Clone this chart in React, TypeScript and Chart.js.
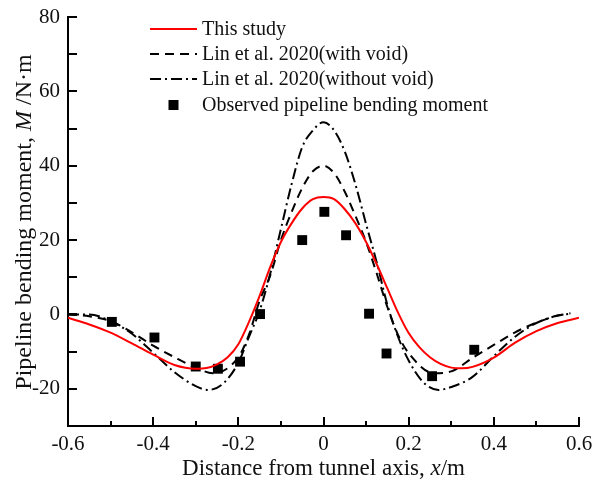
import React, { useEffect, useRef } from "react";
import { Chart, registerables } from "chart.js";

Chart.register(...registerables);

// ---- Data ----
const thisStudyX = [-0.6, -0.55, -0.5, -0.45, -0.4, -0.35, -0.3, -0.275, -0.25, -0.225, -0.2, -0.175, -0.15, -0.125, -0.1, -0.075, -0.05, -0.025, 0, 0.025, 0.05, 0.075, 0.1, 0.125, 0.15, 0.175, 0.2, 0.225, 0.25, 0.275, 0.3, 0.325, 0.35, 0.4, 0.45, 0.5, 0.55, 0.6];
const thisStudyY = [-0.9, -2.7, -4.9, -7.8, -10.8, -13.6, -14.6, -14.4, -13.4, -11.5, -8, -2, 5, 12.8, 19.5, 24.5, 28.5, 31, 31.6, 31, 28.3, 24.5, 19.5, 13.5, 7, 0.5, -5, -8.8, -11.5, -13.3, -14.3, -14.5, -14.1, -11.6, -7.6, -4.5, -2.3, -0.9];

const withVoidX = [-0.6, -0.55, -0.5, -0.45, -0.4, -0.35, -0.3, -0.26, -0.2, -0.175, -0.15, -0.125, -0.1, -0.075, -0.05, -0.025, 0, 0.025, 0.05, 0.075, 0.1, 0.125, 0.15, 0.175, 0.2, 0.26, 0.3, 0.35, 0.4, 0.45, 0.5, 0.55, 0.58];
const withVoidY = [0, -0.5, -1.8, -4.8, -8.4, -11.5, -14.3, -15.8, -11.5, -5.4, 3.7, 10.5, 20, 27.5, 34, 38.5, 40, 38, 33, 26.5, 19.5, 11, 2, -5.5, -10.4, -15.8, -15.3, -11.7, -8.2, -4.8, -2.2, -0.3, 0.3];

const withoutVoidX = [-0.6, -0.55, -0.5, -0.45, -0.4, -0.35, -0.3, -0.27, -0.235, -0.2, -0.175, -0.15, -0.125, -0.1, -0.075, -0.05, -0.025, 0, 0.025, 0.05, 0.075, 0.1, 0.125, 0.15, 0.175, 0.2, 0.235, 0.27, 0.3, 0.35, 0.4, 0.45, 0.5, 0.55, 0.58];
const withoutVoidY = [0, 0, -1.8, -5.2, -10.3, -15.5, -19.3, -20.3, -18.5, -13, -6, 1, 11, 23, 35, 45, 49.5, 51.7, 49.5, 43.8, 35, 24.3, 14, 2.6, -6, -12.4, -18.3, -20.3, -19.5, -16.8, -11.2, -6, -2.3, -0.3, 0.2];

const observedX = [-0.497, -0.397, -0.3, -0.248, -0.196, -0.149, -0.05, 0.002, 0.053, 0.107, 0.148, 0.255, 0.354];
const observedY = [-2, -6.2, -14, -14.6, -12.7, 0.1, 20, 27.6, 21.3, 0.2, -10.5, -16.6, -9.5];

const seriesLabels = [
  "This study",
  "Lin et al. 2020(with void)",
  "Lin et al. 2020(without void)",
  "Observed pipeline bending moment",
];

const xMin = -0.6;
const xMax = 0.6;
const yMin = -30;
const yMax = 80;

const FONT = "'Liberation Serif', 'Times New Roman', serif";

const zip = (xs: number[], ys: number[]) => xs.map((x, i) => ({ x, y: ys[i] }));

const customPlugin = {
  id: "customDecor",
  afterDraw(chart: any) {
    const ctx = chart.ctx;
    const { left, right, bottom } = chart.chartArea;
    const xs = chart.scales.x;
    const ys = chart.scales.y;
    ctx.save();
    ctx.strokeStyle = "#000";
    ctx.lineWidth = 2;
    // x ticks (inward)
    xs.ticks.forEach((t: any) => {
      const px = Math.round(xs.getPixelForValue(t.value));
      const major = Math.round(t.value * 10) % 2 === 0;
      const len = major ? 9 : 5;
      ctx.beginPath();
      ctx.moveTo(px, bottom);
      ctx.lineTo(px, bottom - len);
      ctx.stroke();
    });
    // y ticks (inward)
    ys.ticks.forEach((t: any) => {
      const py = Math.round(ys.getPixelForValue(t.value));
      ctx.beginPath();
      ctx.moveTo(left, py);
      ctx.lineTo(left + 9, py);
      ctx.stroke();
    });

    // legend
    const lx0 = 150;
    const lx1 = 197;
    const tx = 202;
    const rows = [29, 54, 79, 105];
    ctx.font = `20px ${FONT}`;
    ctx.textBaseline = "middle";
    ctx.textAlign = "left";
    chart.data.datasets.forEach((ds: any, i: number) => {
      const y = rows[i];
      if (ds.showLine === false) {
        ctx.fillStyle = ds.pointBackgroundColor || "#000";
        ctx.fillRect((lx0 + lx1) / 2 - 5, y - 5, 10, 10);
      } else {
        ctx.save();
        ctx.strokeStyle = ds.borderColor;
        ctx.lineWidth = ds.borderWidth;
        ctx.setLineDash(ds.borderDash || []);
        ctx.beginPath();
        ctx.moveTo(lx0, y);
        ctx.lineTo(lx1, y);
        ctx.stroke();
        ctx.restore();
      }
      ctx.fillStyle = "#111";
      ctx.fillText(ds.label, tx, y + 1);
    });

    // axis titles with italic variable names
    const drawMixed = (parts: [string, boolean][], cx: number, cy: number, rotate: boolean, size: number) => {
      ctx.save();
      ctx.translate(cx, cy);
      if (rotate) ctx.rotate(-Math.PI / 2);
      let total = 0;
      parts.forEach(([s, it]) => {
        ctx.font = `${it ? "italic " : ""}${size}px ${FONT}`;
        total += ctx.measureText(s).width;
      });
      let x = -total / 2;
      ctx.fillStyle = "#111";
      ctx.textBaseline = "alphabetic";
      ctx.textAlign = "left";
      parts.forEach(([s, it]) => {
        ctx.font = `${it ? "italic " : ""}${size}px ${FONT}`;
        ctx.fillText(s, x, 0);
        x += ctx.measureText(s).width;
      });
      ctx.restore();
    };
    drawMixed(
      [
        ["Distance from tunnel axis, ", false],
        ["x", true],
        ["/m", false],
      ],
      (left + right) / 2,
      475,
      false,
      23
    );
    drawMixed(
      [
        ["Pipeline bending moment, ", false],
        ["M", true],
        [" /N\u00B7m", false],
      ],
      31,
      222,
      true,
      24
    );
    ctx.restore();
  },
};

export default function App() {
  const canvasRef = useRef<HTMLCanvasElement | null>(null);

  useEffect(() => {
    const canvas = canvasRef.current;
    if (!canvas) return;
    const chart = new Chart(canvas, {
      type: "line",
      data: {
        datasets: [
          {
            label: seriesLabels[0],
            data: zip(thisStudyX, thisStudyY),
            borderColor: "#ff0000",
            borderWidth: 2,
            pointRadius: 0,
            cubicInterpolationMode: "monotone",
            fill: false,
          },
          {
            label: seriesLabels[1],
            data: zip(withVoidX, withVoidY),
            borderColor: "#000",
            borderWidth: 2,
            borderDash: [9, 6],
            pointRadius: 0,
            cubicInterpolationMode: "monotone",
            fill: false,
          },
          {
            label: seriesLabels[2],
            data: zip(withoutVoidX, withoutVoidY),
            borderColor: "#000",
            borderWidth: 2,
            borderDash: [11, 4, 2, 4],
            pointRadius: 0,
            cubicInterpolationMode: "monotone",
            fill: false,
          },
          {
            label: seriesLabels[3],
            data: zip(observedX, observedY),
            showLine: false,
            pointStyle: "rect",
            pointRadius: 7,
            pointBackgroundColor: "#000",
            pointBorderColor: "#000",
            pointBorderWidth: 0,
          } as any,
        ],
      },
      options: {
        animation: false,
        responsive: false,
        maintainAspectRatio: false,
        layout: { padding: { left: 8, right: 13, top: 17, bottom: 0 } },
        plugins: {
          legend: { display: false },
          tooltip: { enabled: false },
        },
        scales: {
          x: {
            type: "linear",
            min: xMin,
            max: xMax,
            afterFit: (s: any) => {
              s.height = 55;
              s.paddingLeft = 0;
              s.paddingRight = 0;
            },
            ticks: {
              stepSize: 0.1,
              padding: 6,
              color: "#111",
              font: { family: FONT, size: 21 },
              maxRotation: 0,
              autoSkip: false,
              callback: (v: any) => {
                const k = Math.round(Number(v) * 10);
                if (k % 2 !== 0) return "";
                if (k === 0) return "0";
                return (k / 10).toFixed(1);
              },
            },
            grid: { display: false, drawTicks: false },
            border: { display: true, color: "#000", width: 2 },
          },
          y: {
            type: "linear",
            min: yMin,
            max: yMax,
            afterFit: (s: any) => {
              s.width = 60;
              s.paddingTop = 0;
              s.paddingBottom = 0;
            },
            ticks: {
              stepSize: 10,
              padding: 8,
              color: "#111",
              font: { family: FONT, size: 21 },
              autoSkip: false,
              callback: (v: any) => {
                const n = Math.round(Number(v));
                return n % 20 === 0 ? String(n) : "";
              },
            },
            grid: { display: false, drawTicks: false },
            border: { display: true, color: "#000", width: 2 },
          },
        },
      },
      plugins: [customPlugin],
    });
    return () => chart.destroy();
  }, []);

  return (
    <div style={{ position: "fixed", left: 0, top: 0, width: 592, height: 481, background: "#fff" }}>
      <canvas ref={canvasRef} width={592} height={481} style={{ width: 592, height: 481 }} />
    </div>
  );
}
